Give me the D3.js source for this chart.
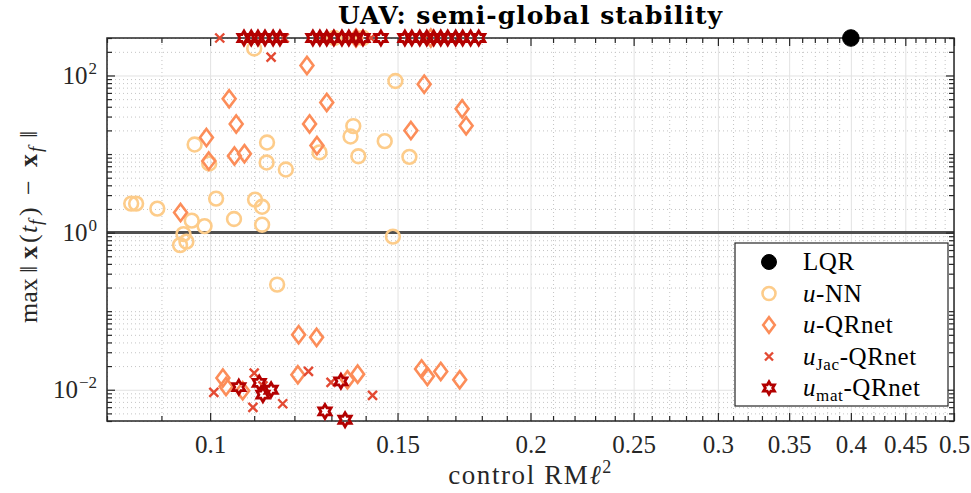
<!DOCTYPE html>
<html>
<head>
<meta charset="utf-8">
<script src="https://cdn.jsdelivr.net/npm/d3@7"></script>
<style>
  body { margin: 0; background: #fff; }
  svg { display: block; font-family: "Liberation Serif", "DejaVu Serif", serif; }
</style>
</head>
<body>
<svg id="chart" width="971" height="493"></svg>
<script>

// LQR
var lqrX = [ 0.4 ],
    lqrY = [ 300 ];

// u-NN
var nnX = [ 0.0967, 0.0998, 0.1131, 0.1130, 0.1178, 0.0843, 0.0852, 0.0892, 0.1013, 0.1102,
            0.1119, 0.0961, 0.0988, 0.1053, 0.1119, 0.0944, 0.0950, 0.0937, 0.1156, 0.1485,
            0.1493, 0.1363, 0.1355, 0.1459, 0.1267, 0.1378, 0.1539, 0.1100, 0.1308, 0.1392 ],
    nnY = [ 13.2, 7.57, 14.0, 7.79, 6.35, 2.34, 2.34, 2.02, 2.71, 2.63,
            2.13, 1.42, 1.21, 1.49, 1.26, 0.957, 0.768, 0.693, 0.218, 0.889,
            85.1, 22.7, 16.7, 14.6, 10.5, 9.37, 9.21, 221, 300, 300 ];

// u-QRnet
var qrX = [ 0.1233, 0.1042, 0.1287, 0.1058, 0.1240, 0.1589, 0.1725, 0.1740, 0.1544, 0.0992,
            0.1260, 0.0997, 0.1054, 0.1077, 0.0938, 0.1211, 0.1259, 0.1028, 0.1035, 0.1073,
            0.1209, 0.1376, 0.1346, 0.1580, 0.1600, 0.1647, 0.1716, 0.1371, 0.1612 ],
    qrY = [ 134, 50.5, 45.3, 24.1, 24.2, 77.5, 37.6, 22.9, 19.9, 16.2,
            12.8, 8.14, 9.43, 10.1, 1.80, 0.0502, 0.0464, 0.0141, 0.0110, 0.0097,
            0.0155, 0.0158, 0.0134, 0.0184, 0.0148, 0.0171, 0.0134, 300, 300 ];

// u_Jac-QRnet
var jacX = [ 0.1008, 0.1100, 0.1097, 0.1170, 0.1237, 0.1299, 0.1421, 0.1121, 0.1141, 0.1021,
             0.1174, 0.1416 ],
    jacY = [ 0.00924, 0.0163, 0.00595, 0.00663, 0.0171, 0.0124, 0.00846, 0.0112, 171, 300,
             300, 300 ];

// u_mat-QRnet
var matX = [ 0.1064, 0.1112, 0.1121, 0.1141, 0.1282, 0.1327, 0.1339,
             0.1076, 0.1093, 0.1109, 0.1126, 0.1146, 0.1163, 0.1249, 0.1268, 0.1287, 0.1307,
             0.1330, 0.1350, 0.1371, 0.1392, 0.1447, 0.1524, 0.1547, 0.1574, 0.1598, 0.1622,
             0.1647, 0.1672, 0.1701, 0.1727, 0.1757, 0.1788 ],
    matY = [ 0.0108, 0.0122, 0.00864, 0.0100, 0.00529, 0.0128, 0.00415,
             300, 300, 300, 300, 300, 300, 300, 300, 300, 300,
             300, 300, 300, 300, 300, 300, 300, 300, 300, 300,
             300, 300, 300, 300, 300, 300 ];

var threshold = 1;

var xTicks = [ 0.1, 0.15, 0.2, 0.25, 0.3, 0.35, 0.4, 0.45, 0.5 ],
    xTickLabels = [ '0.1', '0.15', '0.2', '0.25', '0.3', '0.35', '0.4', '0.45', '0.5' ],
    yTicks = [ 1e-2, 1e0, 1e2 ],
    yTickExp = [ '\u22122', '0', '2' ];

var xDomain = [ 0.08, 0.5 ],
    yDomain = [ 0.004, 300 ];


var svg = d3.select( '#chart' ),
    pLeft = 107, pRight = 954, pTop = 38, pBottom = 421,
    axisColor = '#262626',
    serif = '"Liberation Serif", serif';

var x = d3.scaleLog().domain( xDomain ).range( [ pLeft, pRight ] ),
    y = d3.scaleLog().domain( yDomain ).range( [ pBottom, pTop ] );

// minor tick positions
var xMinor = d3.range( 8, 51 ).map( function( d ) { return d / 100; } )
        .filter( function( d ) { return xTicks.indexOf( d ) < 0; } ),
    yMinor = [];
[ 1e-3, 1e-2, 1e-1, 1, 10, 100 ].forEach( function( dec ) {
    d3.range( 1, 10 ).forEach( function( m ) {
        var v = dec * m;
        if ( v >= yDomain[ 0 ] && v <= yDomain[ 1 ] && yTicks.indexOf( v ) < 0 ) {
            yMinor.push( v );
        }
    } );
} );

var plotW = pRight - pLeft,
    plotH = pBottom - pTop;

// grid
function grid( axis, tx, ty, dashed ) {
    var g = svg.append( 'g' )
        .attr( 'transform', 'translate(' + tx + ',' + ty + ')' )
        .call( axis );
    g.select( '.domain' ).remove();
    g.selectAll( '.tick line' )
        .attr( 'stroke', dashed ? '#c4c4c4' : '#e2e2e2' )
        .attr( 'stroke-width', 1 )
        .attr( 'stroke-dasharray', dashed ? '1,3' : null );
    return g;
}

grid( d3.axisBottom( x ).tickValues( xMinor ).tickSize( -plotH ).tickFormat( '' ), 0, pBottom, true );
grid( d3.axisLeft( y ).tickValues( yMinor ).tickSize( -plotW ).tickFormat( '' ), pLeft, 0, true );
grid( d3.axisBottom( x ).tickValues( xTicks ).tickSize( -plotH ).tickFormat( '' ), 0, pBottom, false );
grid( d3.axisLeft( y ).tickValues( yTicks ).tickSize( -plotW ).tickFormat( '' ), pLeft, 0, false );

// threshold line
svg.append( 'line' )
    .attr( 'x1', pLeft ).attr( 'x2', pRight )
    .attr( 'y1', y( threshold ) ).attr( 'y2', y( threshold ) )
    .attr( 'stroke', '#505050' )
    .attr( 'stroke-width', 3 );

// axes: inward ticks on all four sides
function ticks( axis, tx, ty ) {
    var g = svg.append( 'g' )
        .attr( 'transform', 'translate(' + tx + ',' + ty + ')' )
        .call( axis );
    g.select( '.domain' ).remove();
    g.selectAll( '.tick line' ).attr( 'stroke', axisColor ).attr( 'stroke-width', 1.2 );
    return g;
}

ticks( d3.axisBottom( x ).tickValues( xMinor ).tickSize( -5 ).tickFormat( '' ), 0, pBottom );
ticks( d3.axisTop( x ).tickValues( xMinor ).tickSize( -5 ).tickFormat( '' ), 0, pTop );
ticks( d3.axisTop( x ).tickValues( xTicks ).tickSize( -8 ).tickFormat( '' ), 0, pTop );
ticks( d3.axisLeft( y ).tickValues( yMinor ).tickSize( -5 ).tickFormat( '' ), pLeft, 0 );
ticks( d3.axisRight( y ).tickValues( yMinor ).tickSize( -5 ).tickFormat( '' ), pRight, 0 );
ticks( d3.axisRight( y ).tickValues( yTicks ).tickSize( -8 ).tickFormat( '' ), pRight, 0 );

var xAxis = ticks( d3.axisBottom( x ).tickValues( xTicks ).tickSize( -8 )
    .tickFormat( function( d, i ) { return xTickLabels[ i ]; } ), 0, pBottom );
xAxis.selectAll( '.tick text' )
    .attr( 'y', 31.5 )
    .attr( 'dy', 0 )
    .attr( 'fill', axisColor )
    .style( 'font-size', '25px' )
    .style( 'font-family', serif );

var yAxis = ticks( d3.axisLeft( y ).tickValues( yTicks ).tickSize( -8 ).tickFormat( '' ), pLeft, 0 );
yAxis.selectAll( '.tick' ).each( function( d, i ) {
    var t = d3.select( this ).append( 'text' )
        .attr( 'x', -10 )
        .attr( 'y', 8 )
        .attr( 'fill', axisColor )
        .attr( 'text-anchor', 'end' )
        .style( 'font-size', '25px' )
        .style( 'font-family', serif );
    t.append( 'tspan' ).text( '10' );
    t.append( 'tspan' ).attr( 'dx', 1 ).attr( 'dy', -10 ).style( 'font-size', '17px' ).text( yTickExp[ i ] );
} );

// box
svg.append( 'rect' )
    .attr( 'x', pLeft ).attr( 'y', pTop )
    .attr( 'width', plotW ).attr( 'height', plotH )
    .attr( 'fill', 'none' )
    .attr( 'stroke', axisColor )
    .attr( 'stroke-width', 1.5 );


// marker shapes
var markers = {
    circle: function( r ) {
        return d3.symbol().type( d3.symbolCircle ).size( Math.PI * r * r )();
    },
    diamond: function( r ) {
        var w = r * 0.75;
        return 'M0,' + ( -r ) + 'L' + w + ',0L0,' + r + 'L' + ( -w ) + ',0Z';
    },
    cross: function( r ) {
        return 'M' + ( -r ) + ',' + ( -r ) + 'L' + r + ',' + r +
            'M' + ( -r ) + ',' + r + 'L' + r + ',' + ( -r );
    },
    hexagram: function( r ) {
        var pts = d3.range( 12 ).map( function( i ) {
            var a = Math.PI / 6 * i - Math.PI / 2,
                rr = i % 2 ? r / Math.sqrt( 3 ) : r;
            return [ rr * Math.cos( a ), rr * Math.sin( a ) ];
        } );
        return 'M' + pts.join( 'L' ) + 'Z';
    }
};

var series = [
    { label: 'LQR', xs: lqrX, ys: lqrY, shape: 'circle', r: 8.3, color: '#000000', fill: true, width: 1 },
    { label: 'u-NN', xs: nnX, ys: nnY, shape: 'circle', r: 6.9, color: '#fdcc8a', fill: false, width: 2.6 },
    { label: 'u-QRnet', xs: qrX, ys: qrY, shape: 'diamond', r: 8.6, color: '#fc8d59', fill: false, width: 2.6 },
    { label: 'uJac-QRnet', xs: jacX, ys: jacY, shape: 'cross', r: 4.5, color: '#e34a33', fill: false, width: 2.4 },
    { label: 'umat-QRnet', xs: matX, ys: matY, shape: 'hexagram', r: 7, color: '#b30000', fill: false, width: 2.8 }
];

var drawOrder = [ 1, 2, 3, 4, 0 ];

drawOrder.forEach( function( si ) {
    var s = series[ si ],
        pts = s.xs.map( function( v, i ) { return [ v, s.ys[ i ] ]; } );

    svg.append( 'g' )
        .selectAll( 'path' )
        .data( pts )
        .join( 'path' )
        .attr( 'transform', function( d ) { return 'translate(' + x( d[ 0 ] ) + ',' + y( d[ 1 ] ) + ')'; } )
        .attr( 'd', markers[ s.shape ]( s.r ) )
        .attr( 'fill', s.fill ? s.color : 'none' )
        .attr( 'stroke', s.color )
        .attr( 'stroke-width', s.width )
        .attr( 'stroke-linejoin', 'miter' );
} );


// title
svg.append( 'text' )
    .attr( 'x', ( pLeft + pRight ) / 2 )
    .attr( 'y', 24 )
    .attr( 'text-anchor', 'middle' )
    .attr( 'fill', '#000' )
    .style( 'font-family', '"DejaVu Serif", serif' )
    .style( 'font-size', '25px' )
    .style( 'letter-spacing', '1px' )
    .style( 'font-weight', 'bold' )
    .text( 'UAV: semi-global stability' );

// x label
var xl = svg.append( 'text' )
    .attr( 'x', ( pLeft + pRight ) / 2 )
    .attr( 'y', 484 )
    .attr( 'text-anchor', 'middle' )
    .attr( 'fill', axisColor )
    .style( 'font-size', '27px' )
    .style( 'letter-spacing', '1.6px' );
xl.append( 'tspan' ).text( 'control RM' );
xl.append( 'tspan' ).style( 'font-style', 'italic' ).text( '\u2113' );
xl.append( 'tspan' ).attr( 'dy', -11 ).style( 'font-size', '18px' ).text( '2' );

// y label, pieces placed along the rotated baseline
var yl = svg.append( 'text' )
    .attr( 'transform', 'translate(37,323) rotate(-90)' )
    .attr( 'fill', axisColor )
    .style( 'font-size', '26px' );
yl.append( 'tspan' ).attr( 'x', 0 ).text( 'max' );
yl.append( 'tspan' ).attr( 'x', 50 ).text( '\u2016' );
yl.append( 'tspan' ).attr( 'x', 64 ).style( 'font-weight', 'bold' ).text( 'x' );
yl.append( 'tspan' ).attr( 'x', 80 ).text( '(' );
yl.append( 'tspan' ).attr( 'x', 90 ).style( 'font-style', 'italic' ).text( 't' );
yl.append( 'tspan' ).attr( 'x', 98 ).attr( 'dy', 5 ).style( 'font-style', 'italic' ).style( 'font-size', '19px' ).text( 'f' );
yl.append( 'tspan' ).attr( 'x', 107 ).attr( 'dy', -5 ).text( ')' );
yl.append( 'tspan' ).attr( 'x', 128 ).text( '\u2212' );
yl.append( 'tspan' ).attr( 'x', 156 ).style( 'font-weight', 'bold' ).text( 'x' );
yl.append( 'tspan' ).attr( 'x', 171 ).attr( 'dy', 5 ).style( 'font-style', 'italic' ).style( 'font-size', '19px' ).text( 'f' );
yl.append( 'tspan' ).attr( 'x', 185 ).attr( 'dy', -5 ).text( '\u2016' );


// legend
var legend = svg.append( 'g' ),
    lgX = 735, lgY = 243, lgW = 213, lgH = 163, rowH = 31.5;

legend.append( 'rect' )
    .attr( 'x', lgX ).attr( 'y', lgY )
    .attr( 'width', lgW ).attr( 'height', lgH )
    .attr( 'fill', '#fff' )
    .attr( 'stroke', axisColor )
    .attr( 'stroke-width', 1.2 );

series.forEach( function( s, i ) {
    var cy = lgY + 19 + i * rowH,
        r = s.shape === 'cross' ? 4 : s.shape === 'circle' && !s.fill ? 6.5 : s.r * 0.9,
        t;

    legend.append( 'path' )
        .attr( 'transform', 'translate(' + 769 + ',' + cy + ')' )
        .attr( 'd', markers[ s.shape ]( r ) )
        .attr( 'fill', s.fill ? s.color : 'none' )
        .attr( 'stroke', s.color )
        .attr( 'stroke-width', s.width );

    t = legend.append( 'text' )
        .attr( 'x', 803 )
        .attr( 'y', cy + 8 )
        .attr( 'fill', '#000' )
        .style( 'font-size', '25px' )
        .style( 'letter-spacing', '0.6px' );

    if ( i === 0 ) {
        t.text( s.label );
        return;
    }
    t.append( 'tspan' ).style( 'font-style', 'italic' ).text( 'u' );
    if ( i === 3 || i === 4 ) {
        t.append( 'tspan' ).attr( 'dy', 5 ).style( 'font-size', '17px' ).text( i === 3 ? 'Jac' : 'mat' );
        t.append( 'tspan' ).attr( 'dy', -5 ).text( '-QRnet' );
    } else {
        t.append( 'tspan' ).text( i === 1 ? '-NN' : '-QRnet' );
    }
} );

</script>
</body>
</html>
